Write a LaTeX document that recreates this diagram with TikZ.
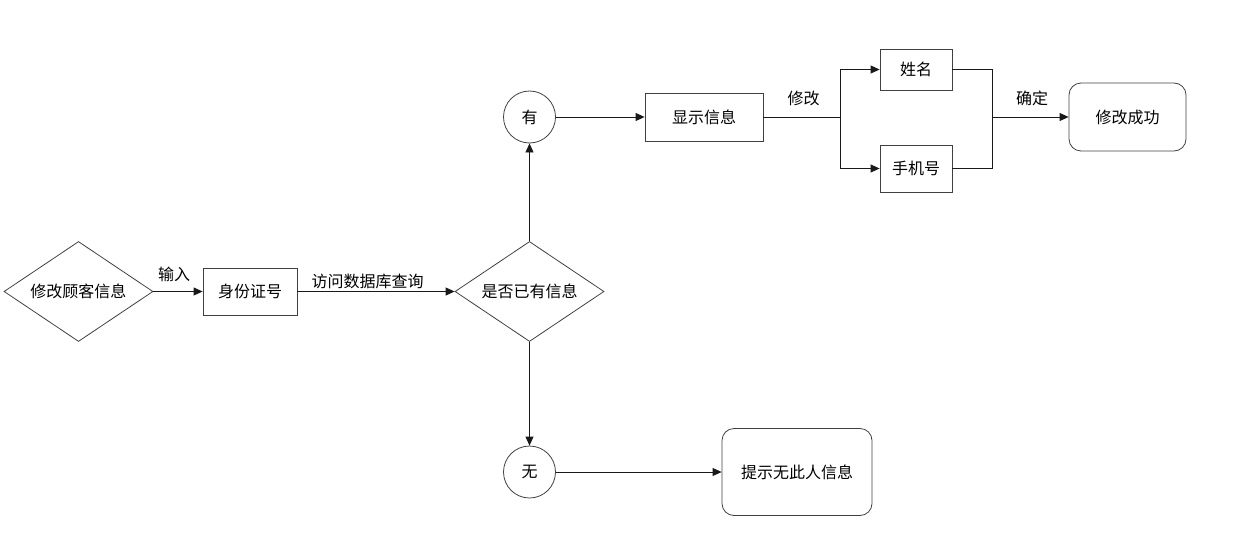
\documentclass[tikz,border=0pt]{standalone}
\usepackage{fontspec}
\setmainfont{Noto Sans CJK SC}
\usetikzlibrary{shapes.geometric,arrows.meta,positioning}
\begin{document}
\begin{tikzpicture}[x=1pt,y=-1pt,
  every node/.style={font=\fontsize{16}{18}\selectfont, inner sep=0pt},
  shp/.style={draw=black!75, line width=0.8pt},
  dia/.style={shp, diamond, minimum width=149pt, minimum height=100pt, aspect=1.49},
  rbox/.style={shp, rectangle},
  rrbox/.style={shp, rectangle, rounded corners=12pt},
  circ/.style={shp, circle, minimum size=52pt},
  arr/.style={draw=black!90, line width=0.8pt, -{Triangle[length=9pt,width=8pt]}},
  ln/.style={draw=black!90, line width=0.8pt},
  lbl/.style={font=\fontsize{16}{18}\selectfont}
]
\useasboundingbox (0,0) rectangle (1247,535);
\node[dia] (d1) at (78.5,291.5) {修改顾客信息};
\node[rbox, minimum width=94pt, minimum height=47pt] (b1) at (250,291.5) {身份证号};
\node[dia] (d2) at (529.5,291.5) {是否已有信息};
\node[circ] (c1) at (529.5,117) {有};
\node[circ] (c2) at (529.5,472) {无};
\node[rbox, minimum width=118pt, minimum height=48pt] (b2) at (704,117) {显示信息};
\node[rbox, minimum width=72pt, minimum height=41pt] (n1) at (916,69.5) {姓名};
\node[rbox, minimum width=72pt, minimum height=47pt] (n2) at (916,168.5) {手机号};
\node[rrbox, minimum width=117pt, minimum height=68pt] (ok) at (1127.5,117) {修改成功};
\node[rrbox, minimum width=150pt, minimum height=87pt] (no) at (797,472) {提示无此人信息};

\coordinate (sp) at (840,117);
\coordinate (mg) at (992,117);

\draw[arr] (d1.east) -- (b1.west);
\draw[arr] (b1.east) -- (d2.west);
\draw[arr] (d2.north) -- (c1.south);
\draw[arr] (d2.south) -- (c2.north);
\draw[arr] (c1.east) -- (b2.west);
\draw[arr] (c2.east) -- (no.west);
\draw[ln] (b2.east) -- (sp);
\draw[arr] (sp) |- (n1.west);
\draw[arr] (sp) |- (n2.west);
\draw[ln] (n1.east) -| (mg);
\draw[ln] (n2.east) -| (mg);
\draw[arr] (mg) -- (ok.west);

\node[lbl] (l1) at (174,274) {输入};
\node[lbl] (l2) at (367.5,281) {访问数据库查询};
\node[lbl] (l3) at (803.5,98.5) {修改};
\node[lbl] (l4) at (1032,98.5) {确定};
\end{tikzpicture}
\end{document}
